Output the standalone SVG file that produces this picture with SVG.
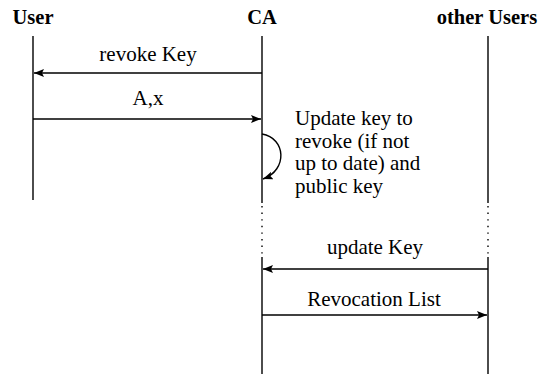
<svg xmlns="http://www.w3.org/2000/svg" width="542" height="374" viewBox="0 0 542 374">
  <defs>
    <marker id="head" markerWidth="11" markerHeight="8" refX="10" refY="4" orient="auto" markerUnits="userSpaceOnUse">
      <path d="M0,0 L10,4 L0,8 L2,4 Z" fill="#000"/>
    </marker>
    <style>
      .actor { font-family: "Liberation Serif", "Times New Roman", serif; font-weight: bold; font-size: 20.5px; fill: #000; }
      .lbl { font-family: "Liberation Serif", "Times New Roman", serif; font-size: 21px; fill: #000; }
      .life { stroke: #000; stroke-width: 1.4; fill: none; }
      .gap { stroke: #000; stroke-width: 1.4; stroke-dasharray: 1.4 5.2; fill: none; }
      .msg { stroke: #000; stroke-width: 1.4; fill: none; marker-end: url(#head); }
    </style>
  </defs>
  <rect width="542" height="374" fill="#fff"/>

  <!-- participants with their lifelines -->
  <g id="user">
    <text class="actor" x="33" y="24" text-anchor="middle">User</text>
    <line class="life" x1="33" y1="36" x2="33" y2="200"/>
  </g>
  <g id="ca">
    <text class="actor" x="262" y="24" text-anchor="middle">CA</text>
    <line class="life" x1="262" y1="36" x2="262" y2="203"/>
    <line class="gap" x1="262" y1="206" x2="262" y2="254"/>
    <line class="life" x1="262" y1="257" x2="262" y2="374"/>
  </g>
  <g id="other-users">
    <text class="actor" x="487" y="24" text-anchor="middle">other Users</text>
    <line class="life" x1="488" y1="36" x2="488" y2="203"/>
    <line class="gap" x1="488" y1="206" x2="488" y2="254"/>
    <line class="life" x1="488" y1="257" x2="488" y2="374"/>
  </g>

  <!-- messages -->
  <g id="connectors">
    <path class="msg" d="M262,73 L34,73"/>
    <path class="msg" d="M33,119 L261,119"/>
    <path class="msg" d="M262,134 C286,138 288,170 263,179"/>
    <path class="msg" d="M488,269 L263,269"/>
    <path class="msg" d="M262,315 L487,315"/>
  </g>

  <g id="labels">
    <text class="lbl" x="148" y="61" text-anchor="middle">revoke Key</text>
    <text class="lbl" x="148" y="105" text-anchor="middle">A,x</text>
    <text class="lbl" x="295" y="125">Update key to</text>
    <text class="lbl" x="295" y="147.5">revoke (if not</text>
    <text class="lbl" x="295" y="170">up to date) and</text>
    <text class="lbl" x="295" y="192.5">public key</text>
    <text class="lbl" x="375" y="254" text-anchor="middle">update Key</text>
    <text class="lbl" x="374" y="306" text-anchor="middle">Revocation List</text>
  </g>
</svg>
